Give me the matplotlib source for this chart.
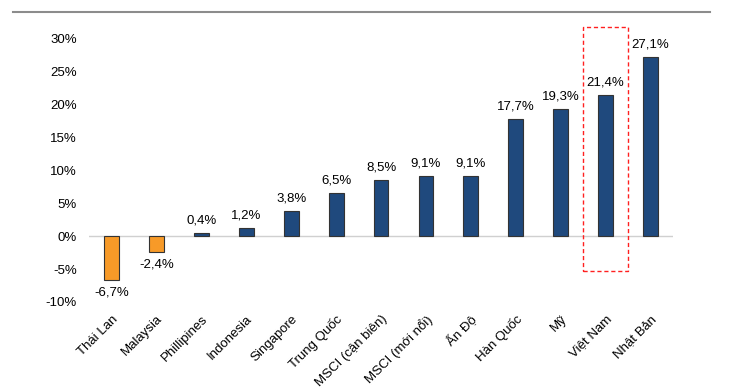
import matplotlib
matplotlib.use("Agg")
import matplotlib.pyplot as plt
from matplotlib.patches import Rectangle
from matplotlib.lines import Line2D

plt.rcParams['font.family'] = ['Liberation Sans', 'DejaVu Sans']

categories = ["Thái Lan", "Malaysia", "Phillipines", "Indonesia", "Singapore",
              "Trung Quốc", "MSCI (cận biên)", "MSCI (mới nổi)", "Ấn Độ",
              "Hàn Quốc", "Mỹ", "Việt Nam", "Nhật Bản"]
values = [-6.7, -2.4, 0.4, 1.2, 3.8, 6.5, 8.5, 9.1, 9.1, 17.7, 19.3, 21.4, 27.1]
yticks = [-10, -5, 0, 5, 10, 15, 20, 25, 30]

navy = "#1F497D"
orange = "#F79A28"

fig = plt.figure(figsize=(7.49, 3.92), dpi=100)
ax = fig.add_axes([0.119, 0.2296, 0.7795, 0.6734])

x = list(range(len(categories)))
colors = [orange if v < 0 else navy for v in values]
ax.bar(x, values, width=0.33, color=colors, edgecolor="#333333", linewidth=0.8, zorder=3)

for xi, v in zip(x, values):
    lbl = f"{v:.1f}%".replace(".", ",")
    if v >= 0:
        ax.text(xi, v + 1.0, lbl, ha="center", va="bottom", fontsize=9.5)
    else:
        ax.text(xi, v - 1.0, lbl, ha="center", va="top", fontsize=9.5)

ax.axhline(0, color="#D0D0D0", linewidth=1, zorder=2)
ax.set_xlim(-0.5, len(categories) - 0.5)
ax.set_ylim(-10, 30)
ax.set_yticks(yticks)
ax.set_yticklabels([f"{t}%" for t in yticks], fontsize=9.5)
ax.set_xticks(x)
ax.set_xticklabels(categories, rotation=45, ha="right", rotation_mode="anchor", fontsize=9.5)
ax.tick_params(axis="both", length=0)
ax.tick_params(axis="y", pad=9)
ax.tick_params(axis="x", pad=8)
for s in ax.spines.values():
    s.set_visible(False)

# highlight box around Viet Nam
vn = categories.index("Việt Nam")
box = Rectangle((vn - 0.5, -5.3), 1.0, 37.0, fill=False, edgecolor="#FF2020",
                linestyle=(0, (3, 2)), linewidth=1.0, clip_on=False, zorder=4)
ax.add_patch(box)

fig.add_artist(Line2D([13 / 749, 710 / 749], [0.969, 0.969], color="#8C8C8C", linewidth=1.5))

fig.savefig("out.png", dpi=100)
